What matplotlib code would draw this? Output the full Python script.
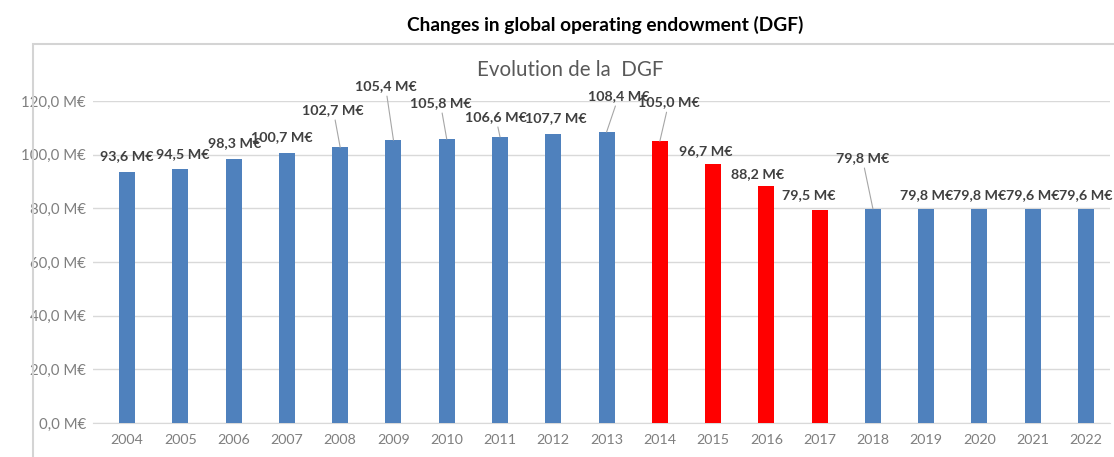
import matplotlib.pyplot as plt
from matplotlib.patches import Rectangle

years = [str(y) for y in range(2004, 2023)]
dgf = [93.6, 94.5, 98.3, 100.7, 102.7, 105.4, 105.8, 106.6, 107.7, 108.4,
       105.0, 96.7, 88.2, 79.5, 79.8, 79.8, 79.8, 79.6, 79.6]
cut_years = ['2014', '2015', '2016', '2017']

# where each value label sits (x index, y value) and whether it gets a leader line
label_pos = [(0.0, 99.5), (1.05, 100.3), (2.01, 104.4), (2.91, 106.6),
             (3.87, 116.7), (4.85, 125.6), (5.88, 119.3), (6.92, 114.1),
             (8.05, 113.7), (9.23, 121.9), (10.17, 119.6), (10.86, 101.4),
             (11.84, 92.8), (12.8, 85.0), (13.8, 98.8), (15.0, 85.0),
             (16.0, 85.0), (17.0, 85.0), (18.0, 85.0)]
leaders = {'2008', '2009', '2010', '2011', '2013', '2014', '2018'}

blue = '#4f81bd'
red = '#ff0000'
grey_txt = '#7f7f7f'

plt.rcParams['font.family'] = ['Lato', 'DejaVu Sans']

fig = plt.figure(figsize=(11.14, 4.57), dpi=100)
fig.text(605 / 1114, 0.945, 'Changes in global operating endowment (DGF)',
         ha='center', va='center', fontsize=13.8, fontweight='bold')

# chart frame
fig.patches.append(Rectangle((33 / 1114, -0.05), 1.1, (457 - 44) / 457 + 0.05,
                             transform=fig.transFigure, fill=False,
                             edgecolor='#d4d4d4', linewidth=1.5))
fig.text(570 / 1114, 1 - 70 / 457, 'Evolution de la  DGF', ha='center',
         va='center', fontsize=14.8, color='#595959')

ax = fig.add_axes([93 / 1114, 34 / 457, (1110 - 93) / 1114, (423 - 101) / 457])
x = list(range(len(years)))
colors = [red if y in cut_years else blue for y in years]
ax.bar(x, dgf, width=0.3, color=colors, zorder=3)

ax.set_ylim(0, 120)
ax.set_xlim(-0.64, 18.45)
ax.set_yticks(range(0, 121, 20))
ax.set_yticklabels([f'{v},0 M€' for v in range(0, 121, 20)])
ax.set_xticks(x)
ax.set_xticklabels(years)
ax.grid(axis='y', color='#d9d9d9', linewidth=1, zorder=0)
for s in ['top', 'right', 'left']:
    ax.spines[s].set_visible(False)
ax.spines['bottom'].set_color('#d9d9d9')
ax.tick_params(length=0, colors=grey_txt)
ax.tick_params(axis='y', pad=5, labelsize=10.8)
ax.tick_params(axis='x', pad=8, labelsize=10.3)

for i, (y, v) in enumerate(zip(years, dgf)):
    lx, ly = label_pos[i]
    txt = f'{v:.1f} M€'.replace('.', ',')
    kw = {}
    if y in leaders:
        kw['arrowprops'] = dict(arrowstyle='-', color='#a6a6a6', lw=0.8,
                                shrinkA=1, shrinkB=0)
    ax.annotate(txt, xy=(i, v), xytext=(lx, ly), ha='center', va='center',
                fontsize=10.3, fontweight='bold', color='#404040',
                annotation_clip=False, **kw)

fig.savefig('out.png', dpi=100)
